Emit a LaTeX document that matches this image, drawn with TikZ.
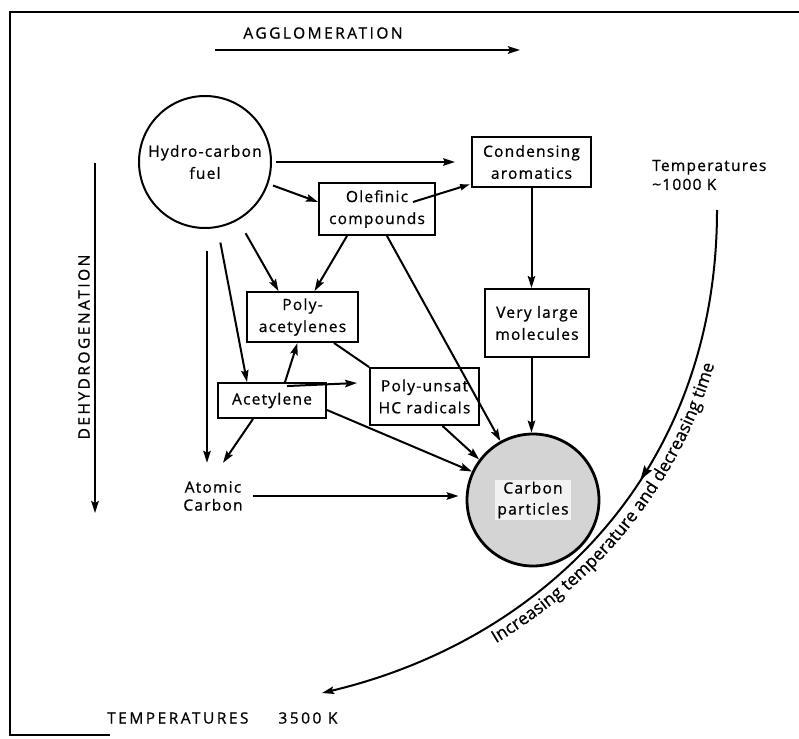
\documentclass[tikz,border=0pt]{standalone}
\usepackage{fontspec}
\setmainfont{Open Sans}[LetterSpace=8, FakeBold=0.8]
\newfontfamily\capsfont{Open Sans}[LetterSpace=16, FakeBold=0.8]
\newfontfamily\curvefamily{Open Sans}[FakeBold=0.8]
\newcommand{\curvefont}{\curvefamily\fontsize{17.5}{18}\selectfont}
\usetikzlibrary{arrows.meta,decorations.text,decorations.markings,calc}
\tikzset{
  box/.style={draw, line width=1.9pt, inner sep=0pt, align=center},
  conn/.style={line width=2pt, -{Stealth[length=12pt,width=7.5pt,inset=2pt]}},
  plain/.style={line width=2pt},
  capstext/.style={font=\capsfont\fontsize{15.5}{18}\selectfont, inner sep=0pt},
}
\begin{document}
\begin{tikzpicture}[x=1pt,y=-1pt, font=\fontsize{15.5}{22}\selectfont]
\useasboundingbox (0,0) rectangle (799,738);
% frame
\draw[line width=2pt] (799,12) -- (10,12) -- (10,735) -- (110,735);

% top label
\node[capstext] (agg) at (323,33) {AGGLOMERATION};
\coordinate (aggA) at (215,50);
\coordinate (aggB) at (520,50);
\draw[conn] (aggA) -- (aggB);

% left label
\node[capstext, rotate=90] (dehyd) at (84,347) {DEHYDROGENATION};
\coordinate (dA) at (95,163);
\coordinate (dB) at (95,513);
\draw[conn] (dA) -- (dB);

% bottom label
\node[capstext, anchor=west] (t3500) at (107,718) {TEMPERATURES\hspace{30pt}3500 K};

% nodes
\node[circle, draw, line width=2pt, minimum size=132pt, inner sep=0pt, align=center] (fuel) at (205,162) {Hydro-carbon\\fuel};
\node[box, minimum width=119pt, minimum height=50pt] (cond) at (531.5,162) {Condensing\\aromatics};
\node[box, minimum width=116pt, minimum height=52pt] (ole) at (377,209) {Olefinic\\compounds};
\node[box, minimum width=111pt, minimum height=50pt] (polyac) at (302.5,317) {Poly-\\acetylenes};
\node[box, minimum width=104pt, minimum height=68pt] (vlm) at (537,323) {Very large\\molecules};
\node[box, minimum width=109pt, minimum height=57pt] (pus) at (424.5,396.5) {Poly-unsat\\HC radicals};
\node[box, minimum width=108pt, minimum height=35pt] (acet) at (272,400.5) {Acetylene};
\node[minimum width=80pt, minimum height=66pt, inner sep=0pt, align=center, font=\fontsize{15.5}{18}\selectfont] (ac) at (213,496) {Atomic\\Carbon};
\node[circle, draw, line width=2.8pt, fill=black!17, minimum size=132pt, inner sep=0pt] (cp) at (533,500) {};
\node[fill=black!5, inner sep=2pt, align=center, font=\fontsize{15.5}{21}\selectfont] (cptext) at (cp) {Carbon\\particles};
\node[anchor=west, align=left, font=\fontsize{15.5}{19}\selectfont, inner sep=0pt] (t1000) at (652,175) {Temperatures\\\textasciitilde1000 K};

% connectors
\draw[conn, shorten <=4pt, shorten >=16pt] (fuel.east) -- (cond.west);
\draw[conn, shorten <=5pt] (fuel.-19.5) -- ([yshift=7pt]ole.west);
\draw[line width=2pt, -{Latex[open,length=11pt,width=7pt]}] ([xshift=36pt,yshift=7pt]ole.center) -- ([yshift=4pt]cond.south west);
\draw[conn] ([xshift=-30pt]ole.south) -- ([xshift=12pt]polyac.north);
\draw[conn, shorten <=15pt] (fuel) -- ([xshift=-24pt]polyac.north);
\draw[conn] ([xshift=10pt]ole.south) -- (cp.119);
\draw[conn] (cond.south) -- (cond.south |- vlm.north);
\draw[conn] (vlm.south -| cond.south) -- (cond.south |- cp.north);
\draw[plain] ([xshift=-25pt]polyac.south east) -- (pus.north west);
\draw[conn, shorten <=82pt] (fuel.center) -- ([xshift=-25pt]acet.north);
\draw[conn, shorten <=22pt] ([xshift=2pt]fuel.south) -- ([xshift=-6pt]ac.north);
\draw[conn] ([xshift=13pt]acet.north) -- ([xshift=-5pt]polyac.south);
\draw[conn] ([xshift=15pt,yshift=-4pt]acet.north) -- ([xshift=-12pt,yshift=13.5pt]pus.west);
\draw[conn] ([xshift=-19pt]acet.south) -- ([xshift=10pt]ac.north);
\draw[conn] ([yshift=-9.5pt]acet.east) -- (cp.155);
\draw[conn] ([xshift=18pt]pus.south) -- (cp.143);
\draw[conn, shorten >=7pt] (ac.east) -- (ac.east -| cp.west);

% big curved arrow
\coordinate (cstart) at (717,210);
\coordinate (cend) at (322,693);
\draw[conn, postaction={decorate}, decoration={markings, mark=at position 0.42 with {\arrow{Stealth[length=14pt,width=9pt,inset=2pt]}}}]
  (cstart) .. controls (717,470) and (545,640) .. (cend);
\path[decorate, decoration={text along path, text={|\curvefont|Increasing temperature and decreasing time}, text align={left indent=185pt}}]
  (325,712) .. controls (559,657) and (736,478) .. (736,210);
\end{tikzpicture}
\end{document}
